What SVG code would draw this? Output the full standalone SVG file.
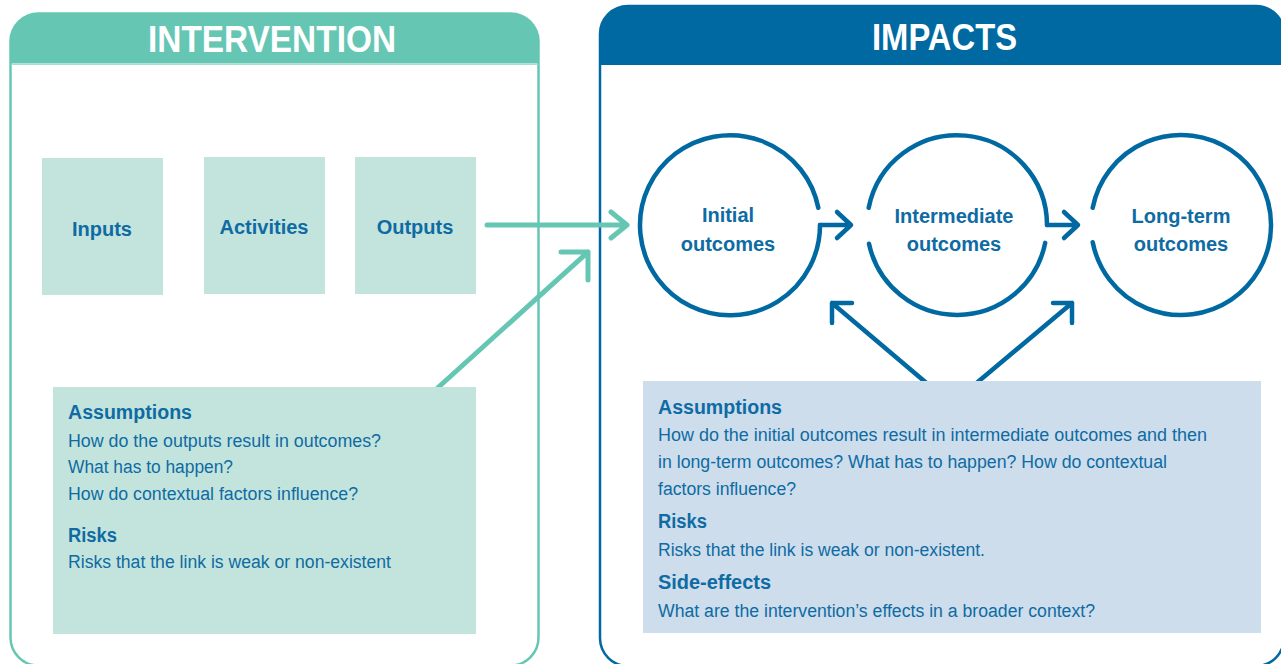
<svg xmlns="http://www.w3.org/2000/svg" width="1281" height="664" viewBox="0 0 1281 664">
<defs>
<style>
.title{font-family:"Liberation Sans",Arial,sans-serif;font-weight:bold;font-size:36px;fill:#ffffff;text-anchor:middle}
.lbl{font-family:"Liberation Sans",Arial,sans-serif;font-weight:bold;font-size:20px;fill:#0E6BA3;text-anchor:middle}
.hd{font-family:"Liberation Sans",Arial,sans-serif;font-weight:bold;font-size:20px;fill:#0E6BA3}
.bd{font-family:"Liberation Sans",Arial,sans-serif;font-size:18px;fill:#0E6BA3}
.tbox{fill:#C3E4DD}
.bbox{fill:#CDDDEC}
.circ{fill:none;stroke:#0069A2;stroke-width:4.5;stroke-linecap:round;stroke-linejoin:round}
.tarr{fill:none;stroke:#66C6B4;stroke-width:5;stroke-linecap:round;stroke-linejoin:round}
.barr{fill:none;stroke:#0069A2;stroke-width:4.5;stroke-linecap:round;stroke-linejoin:round}
</style>
</defs>

<g id="panel-intervention">
<rect x="10.5" y="13.5" width="528" height="652" rx="28" fill="#ffffff" stroke="#66C6B4" stroke-width="2.5"/>
<path d="M10.5 63.5 L10.5 41.5 A28 28 0 0 1 38.5 13.5 L510.5 13.5 A28 28 0 0 1 538.5 41.5 L538.5 63.5 Z" fill="#66C6B4"/>
<line x1="11" y1="64.5" x2="538" y2="64.5" stroke="#A6DCD2" stroke-width="1"/>
<text class="title" x="272" y="52" textLength="248" lengthAdjust="spacingAndGlyphs">INTERVENTION</text>
</g>

<g id="panel-impacts">
<rect x="600" y="6" width="684" height="660" rx="28" fill="#ffffff" stroke="#0069A2" stroke-width="2.5"/>
<path d="M600 65 L600 34 A28 28 0 0 1 628 6 L1256 6 A28 28 0 0 1 1284 34 L1284 65 Z" fill="#0069A2"/>
<text class="title" x="944.5" y="50" textLength="145" lengthAdjust="spacingAndGlyphs">IMPACTS</text>
</g>

<g id="connectors">
<path class="tarr" d="M487 225 L627 225 M611 212 L627 225 L611 238"/>
<path class="tarr" d="M432 393 L588 252 M561 252 L588 252 L588 280"/>
<path class="barr" d="M820 225 L851 225 M837 212 L851 225 L837 238"/>
<path class="barr" d="M1047 225 L1078 225 M1064 212 L1078 225 L1064 238"/>
<path class="barr" d="M930 386 L832 303 M852 303 L832 303 L832 323"/>
<path class="barr" d="M973 386 L1072 303 M1053 303 L1072 303 L1072 323"/>
</g>

<g id="node-inputs">
<rect class="tbox" x="42" y="158" width="121" height="137"/>
<text class="lbl" x="102" y="236">Inputs</text>
</g>
<g id="node-activities">
<rect class="tbox" x="204" y="157" width="121" height="137"/>
<text class="lbl" x="264" y="234">Activities</text>
</g>
<g id="node-outputs">
<rect class="tbox" x="355" y="157" width="121" height="137"/>
<text class="lbl" x="415" y="234">Outputs</text>
</g>

<g id="node-initial">
<path class="circ" d="M818.3 207.8 A90 90 0 1 0 820 225"/>
<text class="lbl" x="728" y="222">Initial</text>
<text class="lbl" x="728" y="251">outcomes</text>
</g>
<g id="node-intermediate">
<path class="circ" d="M868.7 207.8 A90 90 0 0 1 1047 225"/>
<path class="circ" d="M1045.2 242.9 A90 90 0 0 1 869 243.7"/>
<text class="lbl" x="954" y="223">Intermediate</text>
<text class="lbl" x="954" y="251">outcomes</text>
</g>
<g id="node-longterm">
<path class="circ" d="M1092.7 207.8 A90 90 0 1 1 1092.7 242.2"/>
<text class="lbl" x="1181" y="223">Long-term</text>
<text class="lbl" x="1181" y="251">outcomes</text>
</g>

<g id="node-assumptions-intervention">
<rect class="tbox" x="53" y="387" width="423" height="247"/>
<text class="hd" x="68" y="419" textLength="124" lengthAdjust="spacingAndGlyphs">Assumptions</text>
<text class="bd" x="68" y="447" textLength="313" lengthAdjust="spacingAndGlyphs">How do the outputs result in outcomes?</text>
<text class="bd" x="68" y="473" textLength="165" lengthAdjust="spacingAndGlyphs">What has to happen?</text>
<text class="bd" x="68" y="500" textLength="290" lengthAdjust="spacingAndGlyphs">How do contextual factors influence?</text>
<text class="hd" x="68" y="542" textLength="49" lengthAdjust="spacingAndGlyphs">Risks</text>
<text class="bd" x="68" y="568" textLength="323" lengthAdjust="spacingAndGlyphs">Risks that the link is weak or non-existent</text>
</g>

<g id="node-assumptions-impacts">
<rect class="bbox" x="643" y="381" width="618" height="252"/>
<text class="hd" x="658" y="414" textLength="124" lengthAdjust="spacingAndGlyphs">Assumptions</text>
<text class="bd" x="658" y="441" textLength="549" lengthAdjust="spacingAndGlyphs">How do the initial outcomes result in intermediate outcomes and then</text>
<text class="bd" x="658" y="468" textLength="509" lengthAdjust="spacingAndGlyphs">in long-term outcomes? What has to happen? How do contextual</text>
<text class="bd" x="658" y="495" textLength="138" lengthAdjust="spacingAndGlyphs">factors influence?</text>
<text class="hd" x="658" y="528" textLength="49" lengthAdjust="spacingAndGlyphs">Risks</text>
<text class="bd" x="658" y="556" textLength="327" lengthAdjust="spacingAndGlyphs">Risks that the link is weak or non-existent.</text>
<text class="hd" x="658" y="589" textLength="113" lengthAdjust="spacingAndGlyphs">Side-effects</text>
<text class="bd" x="658" y="617" textLength="437" lengthAdjust="spacingAndGlyphs">What are the intervention’s effects in a broader context?</text>
</g>
</svg>
